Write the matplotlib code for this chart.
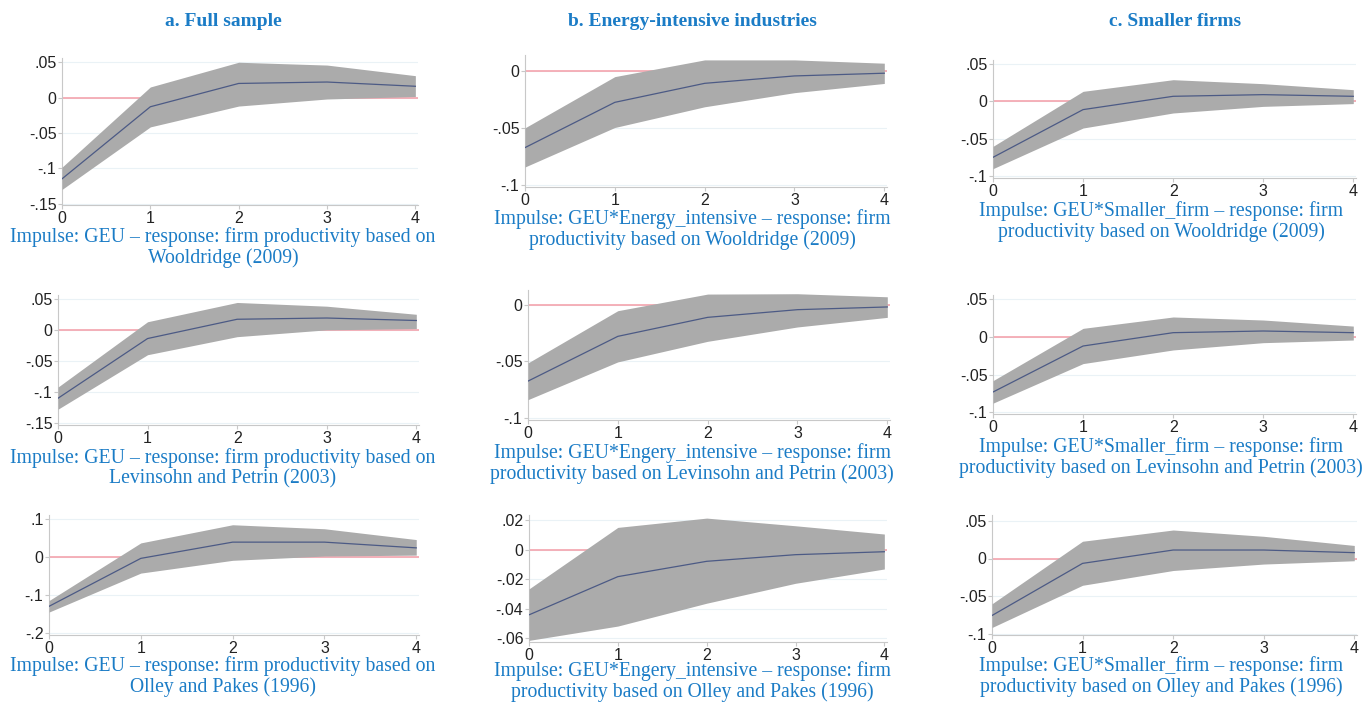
import numpy as np
import matplotlib.pyplot as plt

# impulse-response horizons
steps = [0, 1, 2, 3, 4]

# column headings
col_titles = ["a. Full sample", "b. Energy-intensive industries", "c. Smaller firms"]

# response (irf) with lower / upper confidence bounds, one set per panel
# row 1: Wooldridge (2009)
full_wld = [-0.115, -0.013, 0.020, 0.022, 0.016]
full_wld_lo = [-0.130, -0.0415, -0.012, -0.002, 0.0015]
full_wld_hi = [-0.0985, 0.015, 0.050, 0.046, 0.031]

energy_wld = [-0.0674, -0.0276, -0.0109, -0.0044, -0.002]
energy_wld_lo = [-0.0844, -0.0497, -0.0315, -0.0191, -0.011]
energy_wld_hi = [-0.050, -0.005, 0.0097, 0.0097, 0.0068]

small_wld = [-0.0745, -0.011, 0.0067, 0.0089, 0.0067]
small_wld_lo = [-0.0896, -0.0355, -0.0155, -0.0067, -0.003]
small_wld_hi = [-0.0599, 0.0133, 0.0288, 0.0235, 0.0155]

# row 2: Levinsohn and Petrin (2003)
full_lp = [-0.110, -0.014, 0.017, 0.019, 0.015]
full_lp_lo = [-0.1276, -0.040, -0.011, 0.000, 0.002]
full_lp_hi = [-0.092, 0.013, 0.044, 0.038, 0.025]

energy_lp = [-0.0676, -0.028, -0.0112, -0.0044, -0.002]
energy_lp_lo = [-0.084, -0.0506, -0.0324, -0.0197, -0.0112]
energy_lp_hi = [-0.0515, -0.0053, 0.0094, 0.0097, 0.007]

small_lp = [-0.073, -0.0123, 0.0053, 0.0075, 0.0053]
small_lp_lo = [-0.0877, -0.0355, -0.0175, -0.0079, -0.0044]
small_lp_hi = [-0.058, 0.011, 0.026, 0.022, 0.014]

# row 3: Olley and Pakes (1996)
full_op = [-0.129, -0.0035, 0.039, 0.039, 0.024]
full_op_lo = [-0.144, -0.042, -0.0086, 0.0026, 0.005]
full_op_hi = [-0.114, 0.037, 0.0845, 0.074, 0.0457]

energy_op = [-0.0442, -0.0183, -0.0079, -0.0034, -0.0014]
energy_op_lo = [-0.0615, -0.0518, -0.0363, -0.0228, -0.0131]
energy_op_hi = [-0.0266, 0.0151, 0.0214, 0.0162, 0.0106]

small_op = [-0.076, -0.0065, 0.0113, 0.0113, 0.0078]
small_op_lo = [-0.092, -0.0357, -0.016, -0.0074, -0.003]
small_op_hi = [-0.0604, 0.023, 0.038, 0.0296, 0.0174]

# y ticks and their labels per panel type
ticks_full = [-0.15, -0.1, -0.05, 0, 0.05]
labels_full = ["-.15", "-.1", "-.05", "0", ".05"]
ticks_energy = [-0.1, -0.05, 0]
labels_energy = ["-.1", "-.05", "0"]
ticks_small = [-0.1, -0.05, 0, 0.05]
labels_small = ["-.1", "-.05", "0", ".05"]
ticks_full_op = [-0.2, -0.1, 0, 0.1]
labels_full_op = ["-.2", "-.1", "0", ".1"]
ticks_energy_op = [-0.06, -0.04, -0.02, 0, 0.02]
labels_energy_op = ["-.06", "-.04", "-.02", "0", ".02"]

captions = [
    ["Impulse: GEU \u2013 response: firm productivity based on\nWooldridge (2009)",
     "Impulse: GEU*Energy_intensive \u2013 response: firm\nproductivity based on Wooldridge (2009)",
     "Impulse: GEU*Smaller_firm \u2013 response: firm\nproductivity based on Wooldridge (2009)"],
    ["Impulse: GEU \u2013 response: firm productivity based on\nLevinsohn and Petrin (2003)",
     "Impulse: GEU*Engery_intensive \u2013 response: firm\nproductivity based on Levinsohn and Petrin (2003)",
     "Impulse: GEU*Smaller_firm \u2013 response: firm\nproductivity based on Levinsohn and Petrin (2003)"],
    ["Impulse: GEU \u2013 response: firm productivity based on\nOlley and Pakes (1996)",
     "Impulse: GEU*Engery_intensive \u2013 response: firm\nproductivity based on Olley and Pakes (1996)",
     "Impulse: GEU*Smaller_firm \u2013 response: firm\nproductivity based on Olley and Pakes (1996)"],
]

panels = [
    [(full_wld, full_wld_lo, full_wld_hi, ticks_full, labels_full),
     (energy_wld, energy_wld_lo, energy_wld_hi, ticks_energy, labels_energy),
     (small_wld, small_wld_lo, small_wld_hi, ticks_small, labels_small)],
    [(full_lp, full_lp_lo, full_lp_hi, ticks_full, labels_full),
     (energy_lp, energy_lp_lo, energy_lp_hi, ticks_energy, labels_energy),
     (small_lp, small_lp_lo, small_lp_hi, ticks_small, labels_small)],
    [(full_op, full_op_lo, full_op_hi, ticks_full_op, labels_full_op),
     (energy_op, energy_op_lo, energy_op_hi, ticks_energy_op, labels_energy_op),
     (small_op, small_op_lo, small_op_hi, ticks_small, labels_small)],
]

# axes boxes in pixels: (left, top, right, bottom) and y limits
boxes = [
    [((62, 58, 418, 205), (-0.152, 0.056)),
     ((525, 55, 887, 187), (-0.102, 0.014)),
     ((993, 60, 1356, 178), (-0.102, 0.055))],
    [((58, 295, 419, 425), (-0.153, 0.056)),
     ((528, 290, 890, 420), (-0.102, 0.013)),
     ((993, 295, 1356, 414), (-0.102, 0.055))],
    [((49, 515, 419, 635), (-0.204, 0.11)),
     ((529, 515, 887, 642), (-0.0626, 0.0235)),
     ((992, 515, 1357, 635), (-0.102, 0.058))],
]
# centre of the first caption line, in pixels
caption_y = [[235, 217, 209], [456, 451, 445], [664, 669, 664]]
caption_x = [223, 692, 1161]
title_x = [223, 692, 1175]

W, H = 1365, 705
blue = "#1b7cc6"
fig = plt.figure(figsize=(W / 100, H / 100), dpi=100)

for c, t in enumerate(col_titles):
    fig.text(title_x[c] / W, 1 - 22 / H, t, ha="center", va="center",
             family="Liberation Serif", fontweight="bold", fontsize=14, color=blue)

for r in range(3):
    for c in range(3):
        irf, lo, hi, yt, yl = panels[r][c]
        (l, t, rr, b), ylim = boxes[r][c]
        ax = fig.add_axes([l / W, 1 - b / H, (rr - l) / W, (b - t) / H])
        ax.set_axisbelow(True)
        ax.axhline(0, color="#f4a3ad", lw=1.2, zorder=2)
        ax.fill_between(steps, lo, hi, color="#ababab", lw=0, zorder=3)
        ax.plot(steps, irf, color="#4c5a85", lw=0.9, zorder=4)
        ax.set_xlim(0, 4.03)
        ax.set_ylim(*ylim)
        ax.set_xticks(steps)
        ax.set_yticks(yt)
        ax.set_yticklabels(yl)
        ax.grid(axis="y", color="#eaf2f6", lw=0.8)
        for s in ["top", "right"]:
            ax.spines[s].set_visible(False)
        for s in ["left", "bottom"]:
            ax.spines[s].set_color("#c8c8c8")
        ax.tick_params(color="#c8c8c8", labelcolor="#222222", labelsize=11.5,
                       length=3, pad=1)
        for lab in ax.get_xticklabels() + ax.get_yticklabels():
            lab.set_family("Liberation Sans")
        fig.text(caption_x[c] / W, 1 - (caption_y[r][c] - 8) / H, captions[r][c],
                 ha="center", va="top", family="Liberation Serif",
                 fontsize=14.2, color=blue, linespacing=1.12)

fig.savefig("out.png", dpi=100)
